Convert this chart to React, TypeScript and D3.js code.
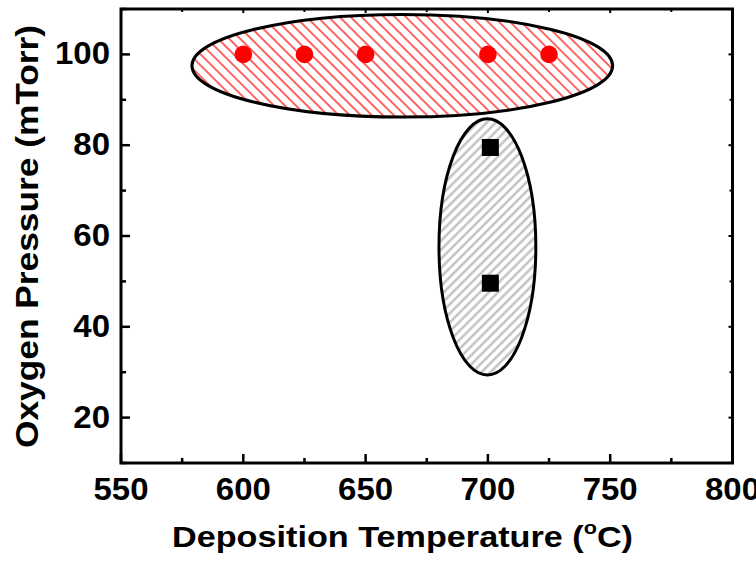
import React from "react";
import * as d3 from "d3";

const xTicks = [550, 600, 650, 700, 750, 800];
const yTicks = [20, 40, 60, 80, 100];
const circleX = [600, 625, 650, 700, 725];
const circleY = [100, 100, 100, 100, 100];
const squareX = [701, 701];
const squareY = [79.5, 49.6];
// ellipse regions: [cx, cy, rx, ry] in data units
const redRegion = [665, 97.5, 86, 11.3];
const grayRegion = [699.8, 57.6, 19.8, 28.2];

const W = 756, H = 567;
const L = 121, R = 732.5, T = 9, B = 463;

export default function App() {
  const x = d3.scaleLinear().domain([550, 800]).range([L, R]);
  const y = d3.scaleLinear().domain([10, 110]).range([B, T]);
  const minorX = d3.range(575, 800, 50);
  const minorY = d3.range(10, 111, 20);
  const font = "'Liberation Sans', Arial, sans-serif";
  const ell = (r: number[]) => ({
    cx: x(r[0]), cy: y(r[1]),
    rx: x(r[0] + r[2]) - x(r[0]), ry: y(r[1] - r[3]) - y(r[1]),
  });
  const re = ell(redRegion);
  const ge = ell(grayRegion);
  return (
    <svg width={W} height={H} style={{ position: "absolute", left: 0, top: 0, background: "#fff" }}>
      <defs>
        <pattern id="redHatch" width="7.8" height="10" patternUnits="userSpaceOnUse" patternTransform="rotate(-45)">
          <line x1="2" y1="0" x2="2" y2="10" stroke="#ff0000" strokeWidth="1.2" />
        </pattern>
        <pattern id="grayHatch" width="6.4" height="10" patternUnits="userSpaceOnUse" patternTransform="rotate(45)">
          <line x1="2" y1="0" x2="2" y2="10" stroke="#c2c2c2" strokeWidth="2.5" />
        </pattern>
      </defs>
      <rect x={0} y={0} width={W} height={H} fill="#fff" />
      {/* regions */}
      <ellipse {...re} fill="#fff" />
      <ellipse {...re} fill="url(#redHatch)" stroke="#000" strokeWidth={3} />
      <ellipse {...ge} fill="#fff" />
      <ellipse {...ge} fill="url(#grayHatch)" stroke="#000" strokeWidth={3} />
      {/* points */}
      {circleX.map((v, i) => (
        <circle key={"c" + i} cx={x(v)} cy={y(circleY[i])} r={8.8} fill="#ff0000" />
      ))}
      {squareX.map((v, i) => (
        <rect key={"s" + i} x={x(v) - 8.5} y={y(squareY[i]) - 8.5} width={17} height={17} fill="#000" />
      ))}
      {/* frame */}
      <rect x={L} y={T} width={R - L} height={B - T} fill="none" stroke="#000" strokeWidth={3} />
      {/* bottom ticks */}
      {xTicks.map((t) => (
        <g key={"xt" + t}>
          <line x1={x(t)} x2={x(t)} y1={B} y2={B - 9} stroke="#000" strokeWidth={2.5} />
          <line x1={x(t)} x2={x(t)} y1={T} y2={T + 4} stroke="#000" strokeWidth={2} />
          <text x={x(t)} y={500} textAnchor="middle" fontFamily={font} fontWeight="bold" fontSize={31}
            textLength={55} lengthAdjust="spacingAndGlyphs">{t}</text>
        </g>
      ))}
      {minorX.map((t) => (
        <g key={"xm" + t}>
          <line x1={x(t)} x2={x(t)} y1={B} y2={B - 5} stroke="#000" strokeWidth={2.5} />
          <line x1={x(t)} x2={x(t)} y1={T} y2={T + 3} stroke="#000" strokeWidth={2} />
        </g>
      ))}
      {yTicks.map((t) => (
        <g key={"yt" + t}>
          <line x1={L} x2={L + 9} y1={y(t)} y2={y(t)} stroke="#000" strokeWidth={2.5} />
          <line x1={R} x2={R - 4} y1={y(t)} y2={y(t)} stroke="#000" strokeWidth={2} />
          <text x={110} y={y(t) + 10} textAnchor="end" fontFamily={font} fontWeight="bold" fontSize={31}
            textLength={t >= 100 ? 55 : 36.7} lengthAdjust="spacingAndGlyphs">{t}</text>
        </g>
      ))}
      {minorY.map((t) => (
        <g key={"ym" + t}>
          <line x1={L} x2={L + 5} y1={y(t)} y2={y(t)} stroke="#000" strokeWidth={2.5} />
          <line x1={R} x2={R - 3} y1={y(t)} y2={y(t)} stroke="#000" strokeWidth={2} />
        </g>
      ))}
      {/* axis titles */}
      <text x={172} y={547} fontFamily={font} fontWeight="bold" fontSize={30}
        textLength={461} lengthAdjust="spacingAndGlyphs">
        Deposition Temperature (<tspan fontSize={19} dy={-13}>o</tspan><tspan dy={13}>C)</tspan>
      </text>
      <text transform={`translate(38,448) rotate(-90)`} fontFamily={font} fontWeight="bold" fontSize={31}
        textLength={423} lengthAdjust="spacingAndGlyphs">
        Oxygen Pressure (mTorr)
      </text>
    </svg>
  );
}
